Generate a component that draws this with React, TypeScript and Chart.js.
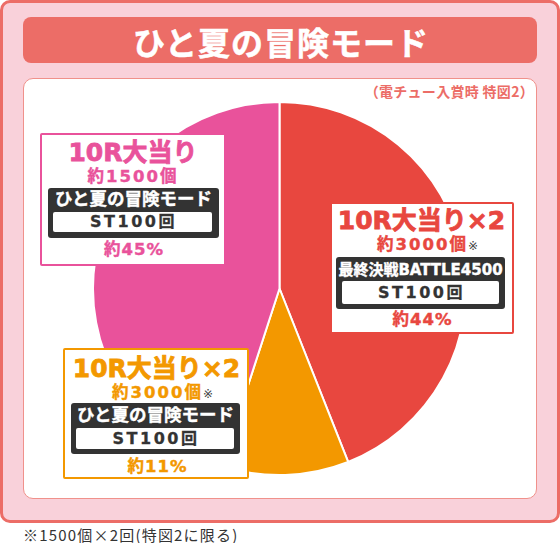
import React, { useEffect, useRef } from "react";
import { Chart, registerables } from "chart.js";

Chart.register(...registerables);

// ---- data ----
const categories = ["10R大当り×2 最終決戦BATTLE4500", "10R大当り×2 ひと夏の冒険モード", "10R大当り ひと夏の冒険モード"];
const shares = [44, 11, 45];
const sliceColors = ["#E8473F", "#F39800", "#E9529B"];
const roundLabels = ["10R大当り×2", "10R大当り×2", "10R大当り"];
const payoutLabels = ["約3000個", "約3000個", "約1500個"];
const payoutMarks = ["※", "※", ""];
const modeLabels = ["最終決戦BATTLE4500", "ひと夏の冒険モード", "ひと夏の冒険モード"];
const stLabels = ["ST100回", "ST100回", "ST100回"];
const shareLabels = ["約44%", "約11%", "約45%"];
const titleText = "ひと夏の冒険モード";
const subtitleText = "（電チュー入賞時 特図2）";
const footnoteText = "※1500個×2回(特図2に限る)";

const LABEL_FONT = "'DejaVu Sans', 'Noto Sans CJK JP', sans-serif";
const JP_FONT = "'Noto Sans CJK JP', sans-serif";

type TProps = {
  x: number; y: number; size: number; color: string; weight?: number; ls?: number; family?: string; stroke?: number; children: React.ReactNode;
};
function T({ x, y, size, color, weight = 700, ls = 0, family = LABEL_FONT, stroke = 0, children }: TProps) {
  return (
    <div
      style={{
        position: "absolute", left: x, top: y, transform: "translate(-50%,-50%)", fontSize: size, lineHeight: 1,
        whiteSpace: "nowrap", color, fontWeight: weight, letterSpacing: ls, fontFamily: family,
        WebkitTextStroke: stroke ? `${stroke}px ${color}` : undefined,
      }}
    >
      {children}
    </div>
  );
}

function Rect({ l, t, r, b, style }: { l: number; t: number; r: number; b: number; style: React.CSSProperties }) {
  return <div style={{ position: "absolute", left: l, top: t, width: r - l, height: b - t, boxSizing: "border-box", ...style }} />;
}

type Box = { l: number; t: number; r: number; b: number; dark: [number, number, number, number]; inner: [number, number, number, number]; ys: number[]; modeSize: number; cx: number };

const boxes: Box[] = [
  { l: 330, t: 202, r: 514, b: 334, dark: [336, 257, 505, 309], inner: [342, 281, 499, 304], ys: [220, 245, 270, 293, 320], modeSize: 15, cx: 421.5 },
  { l: 63, t: 348, r: 249, b: 479, dark: [71, 403, 240, 454], inner: [76, 428, 234, 449], ys: [368, 393, 416, 439, 467], modeSize: 17.5, cx: 156.5 },
  { l: 40, t: 133, r: 226, b: 266, dark: [48, 188, 219, 238], inner: [53, 212, 212, 232], ys: [152, 177, 200, 222, 250], modeSize: 17.5, cx: 133 },
];

function PieChart() {
  const ref = useRef<HTMLCanvasElement | null>(null);
  useEffect(() => {
    if (!ref.current) return;
    const chart = new Chart(ref.current, {
      type: "pie",
      data: {
        labels: categories,
        datasets: [
          {
            data: shares,
            backgroundColor: sliceColors,
            borderColor: "#ffffff",
            borderWidth: 2,
            hoverBorderWidth: 2,
            hoverOffset: 0,
          },
        ],
      },
      options: {
        responsive: false,
        animation: false,
        layout: { padding: 0 },
        events: [],
        plugins: { legend: { display: false }, tooltip: { enabled: false }, title: { display: false } },
      },
    });
    return () => chart.destroy();
  }, []);
  return <canvas ref={ref} width={375} height={375} style={{ position: "absolute", left: 92, top: 101, width: 375, height: 375 }} />;
}

export default function App() {
  return (
    <div style={{ position: "fixed", left: 0, top: 0, width: 560, height: 543, background: "#ffffff", overflow: "hidden" }}>
      <Rect l={0} t={0} r={560} b={523} style={{ background: "#F9D1DA", border: "3px solid #EC6D67", borderRadius: 10 }} />
      <Rect l={23} t={17} r={537} b={63} style={{ background: "#EC6D67", borderRadius: 8 }} />
      <T x={281} y={41} size={32} color="#ffffff" family={JP_FONT} ls={1} stroke={0.5}>{titleText}</T>
      <Rect l={23} t={78} r={537} b={499} style={{ background: "#ffffff", border: "1px solid #F0918B", borderRadius: 10 }} />
      <div style={{ position: "absolute", right: 26, top: 84, fontSize: 14, lineHeight: 1, fontWeight: 700, color: "#EC6D67", fontFamily: JP_FONT, whiteSpace: "nowrap", letterSpacing: 0.3 }}>
        {subtitleText}
      </div>
      <PieChart />
      {boxes.map((bx, i) => {
        const c = sliceColors[i];
        const [dl, dt, dr, db] = bx.dark;
        const [il, it, ir, ib] = bx.inner;
        return (
          <React.Fragment key={i}>
            <Rect l={bx.l} t={bx.t} r={bx.r} b={bx.b} style={{ background: "#ffffff", border: `2px solid ${c}`, borderRadius: 2 }} />
            <T x={bx.cx} y={bx.ys[0]} size={25} color={c} stroke={0.8}>{roundLabels[i]}</T>
            <T x={bx.cx + (payoutMarks[i] ? 6 : 0)} y={bx.ys[1]} size={16.5} color={c} ls={2} stroke={0.4}>
              {payoutLabels[i]}
              {payoutMarks[i] ? <span style={{ fontSize: 12, fontWeight: 400, color: "#444", letterSpacing: 0, WebkitTextStroke: "0px" }}>{payoutMarks[i]}</span> : null}
            </T>
            <Rect l={dl} t={dt} r={dr} b={db} style={{ background: "#333333", borderRadius: 3 }} />
            <T x={(dl + dr) / 2} y={bx.ys[2]} size={bx.modeSize} color="#ffffff" stroke={0.4}>{modeLabels[i]}</T>
            <Rect l={il} t={it} r={ir} b={ib} style={{ background: "#ffffff", borderRadius: 2 }} />
            <T x={(il + ir) / 2 + 1} y={bx.ys[3]} size={16} color="#333333" ls={2.5} stroke={0.3}>{stLabels[i]}</T>
            <T x={bx.cx + 1} y={bx.ys[4]} size={16.5} color={c} ls={1} stroke={0.4}>{shareLabels[i]}</T>
          </React.Fragment>
        );
      })}
      <div style={{ position: "absolute", left: 23, top: 527, fontSize: 15, lineHeight: 1, color: "#333333", fontFamily: JP_FONT, whiteSpace: "nowrap", letterSpacing: 1.2 }}>
        {footnoteText}
      </div>
    </div>
  );
}
